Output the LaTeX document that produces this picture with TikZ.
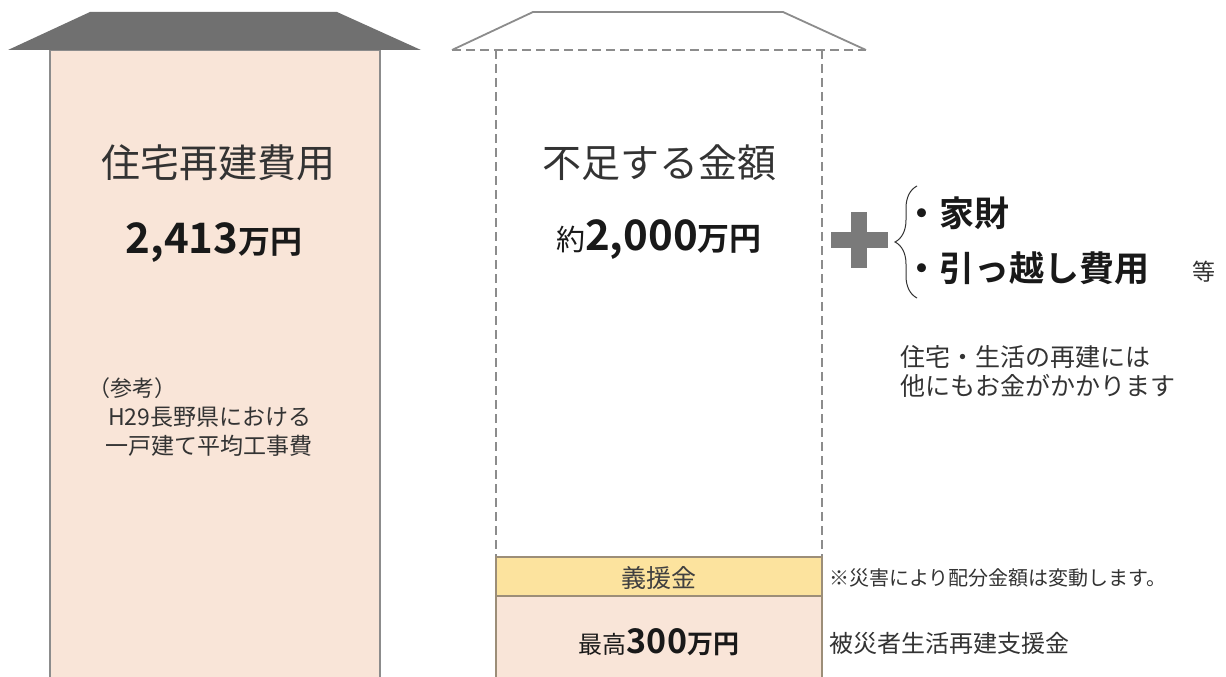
\documentclass[tikz,border=0pt]{standalone}
\usepackage{fontspec}
\setmainfont{Noto Sans CJK JP}[BoldFont={Noto Sans CJK JP Bold}]
\usetikzlibrary{decorations.pathreplacing}
\definecolor{peach}{HTML}{F9E5D8}
\definecolor{roofgray}{HTML}{707070}
\definecolor{edgegray}{HTML}{8C8C8C}
\definecolor{txt}{HTML}{333333}
\definecolor{gold}{HTML}{FCE39E}
\definecolor{boxedge}{HTML}{9C8E78}
\definecolor{plusgray}{HTML}{7A7A7A}
\newcommand\fsz[1]{\fontsize{#1}{#1}\selectfont}
\tikzset{
  lbl/.style={inner sep=0pt, text=txt},
  bignum/.style={inner sep=0pt, text=black!90},
}
\begin{document}
\begin{tikzpicture}[x=1pt,y=-1pt]
\useasboundingbox[fill=white] (0,0) rectangle (1226,677);
% left house
\filldraw[fill=peach, draw=edgegray, line width=1.5pt] (50,50) rectangle (380,690);
\fill[roofgray] (90,12) -- (337,12) -- (421,50) -- (8,50) -- cycle;
% middle house
\draw[edgegray, line width=1.8pt] (452,50) -- (533,12) -- (783,12) -- (866,50);
\draw[edgegray, line width=1.5pt, dash pattern=on 9pt off 5pt] (452,50) -- (866,50);
\draw[edgegray, line width=1.5pt, dash pattern=on 9pt off 5pt] (496,50) -- (496,557);
\draw[edgegray, line width=1.5pt, dash pattern=on 9pt off 5pt] (822,50) -- (822,557);
\filldraw[fill=gold, draw=boxedge, line width=1.5pt] (496,557) rectangle (822,596);
\filldraw[fill=peach, draw=boxedge, line width=1.5pt] (496,596) rectangle (822,690);
% left texts
\node[lbl] (lt) at (218,163) {\fsz{39}住宅再建費用};
\node[bignum] (lv) at (214,243) {\fsz{42}\bfseries 2,413\fsz{32}万円};
\node[lbl, anchor=west] (r1) at (88,388) {\fsz{22}（参考）};
\node[lbl, anchor=west] (r2) at (108,417) {\fsz{23}H29長野県における};
\node[lbl, anchor=west] (r3) at (105,446) {\fsz{23}一戸建て平均工事費};
% middle texts
\node[lbl] (mt) at (659,163) {\fsz{39}不足する金額};
\node[bignum] (mv) at (659,240) {\fsz{29}\mdseries 約\fsz{42}\bfseries 2,000\fsz{32}万円};
\node[lbl, text=black!75] (gi) at (659,578) {\fsz{25}義援金};
\node[bignum] (sai) at (659,642) {\fsz{24}\mdseries 最高\fsz{34}\bfseries 300\fsz{26}万円};
% plus and brace
\fill[plusgray] (831,232) rectangle (888,248);
\fill[plusgray] (851,212) rectangle (867,268);
\draw[txt, line width=1pt, decorate, decoration={brace, amplitude=22pt}] (917,298) -- (917,186);
\node[bignum, anchor=west] (k1) at (904,213) {\fsz{35}\bfseries ・家財};
\node[bignum, anchor=west] (k2) at (904,268) {\fsz{35}\bfseries ・引っ越し費用};
\node[lbl, anchor=west] (k3) at (1192,272) {\fsz{23}等};
\node[lbl, anchor=west] (n1) at (900,357) {\fsz{25}住宅・生活の再建には};
\node[lbl, anchor=west] (n2) at (900,386) {\fsz{25}他にもお金がかかります};
\node[lbl, anchor=west] (n3) at (829,578) {\fsz{20}※災害により配分金額は変動します。};
\node[lbl, anchor=west] (n4) at (829,643) {\fsz{24}被災者生活再建支援金};
\end{tikzpicture}
\end{document}
